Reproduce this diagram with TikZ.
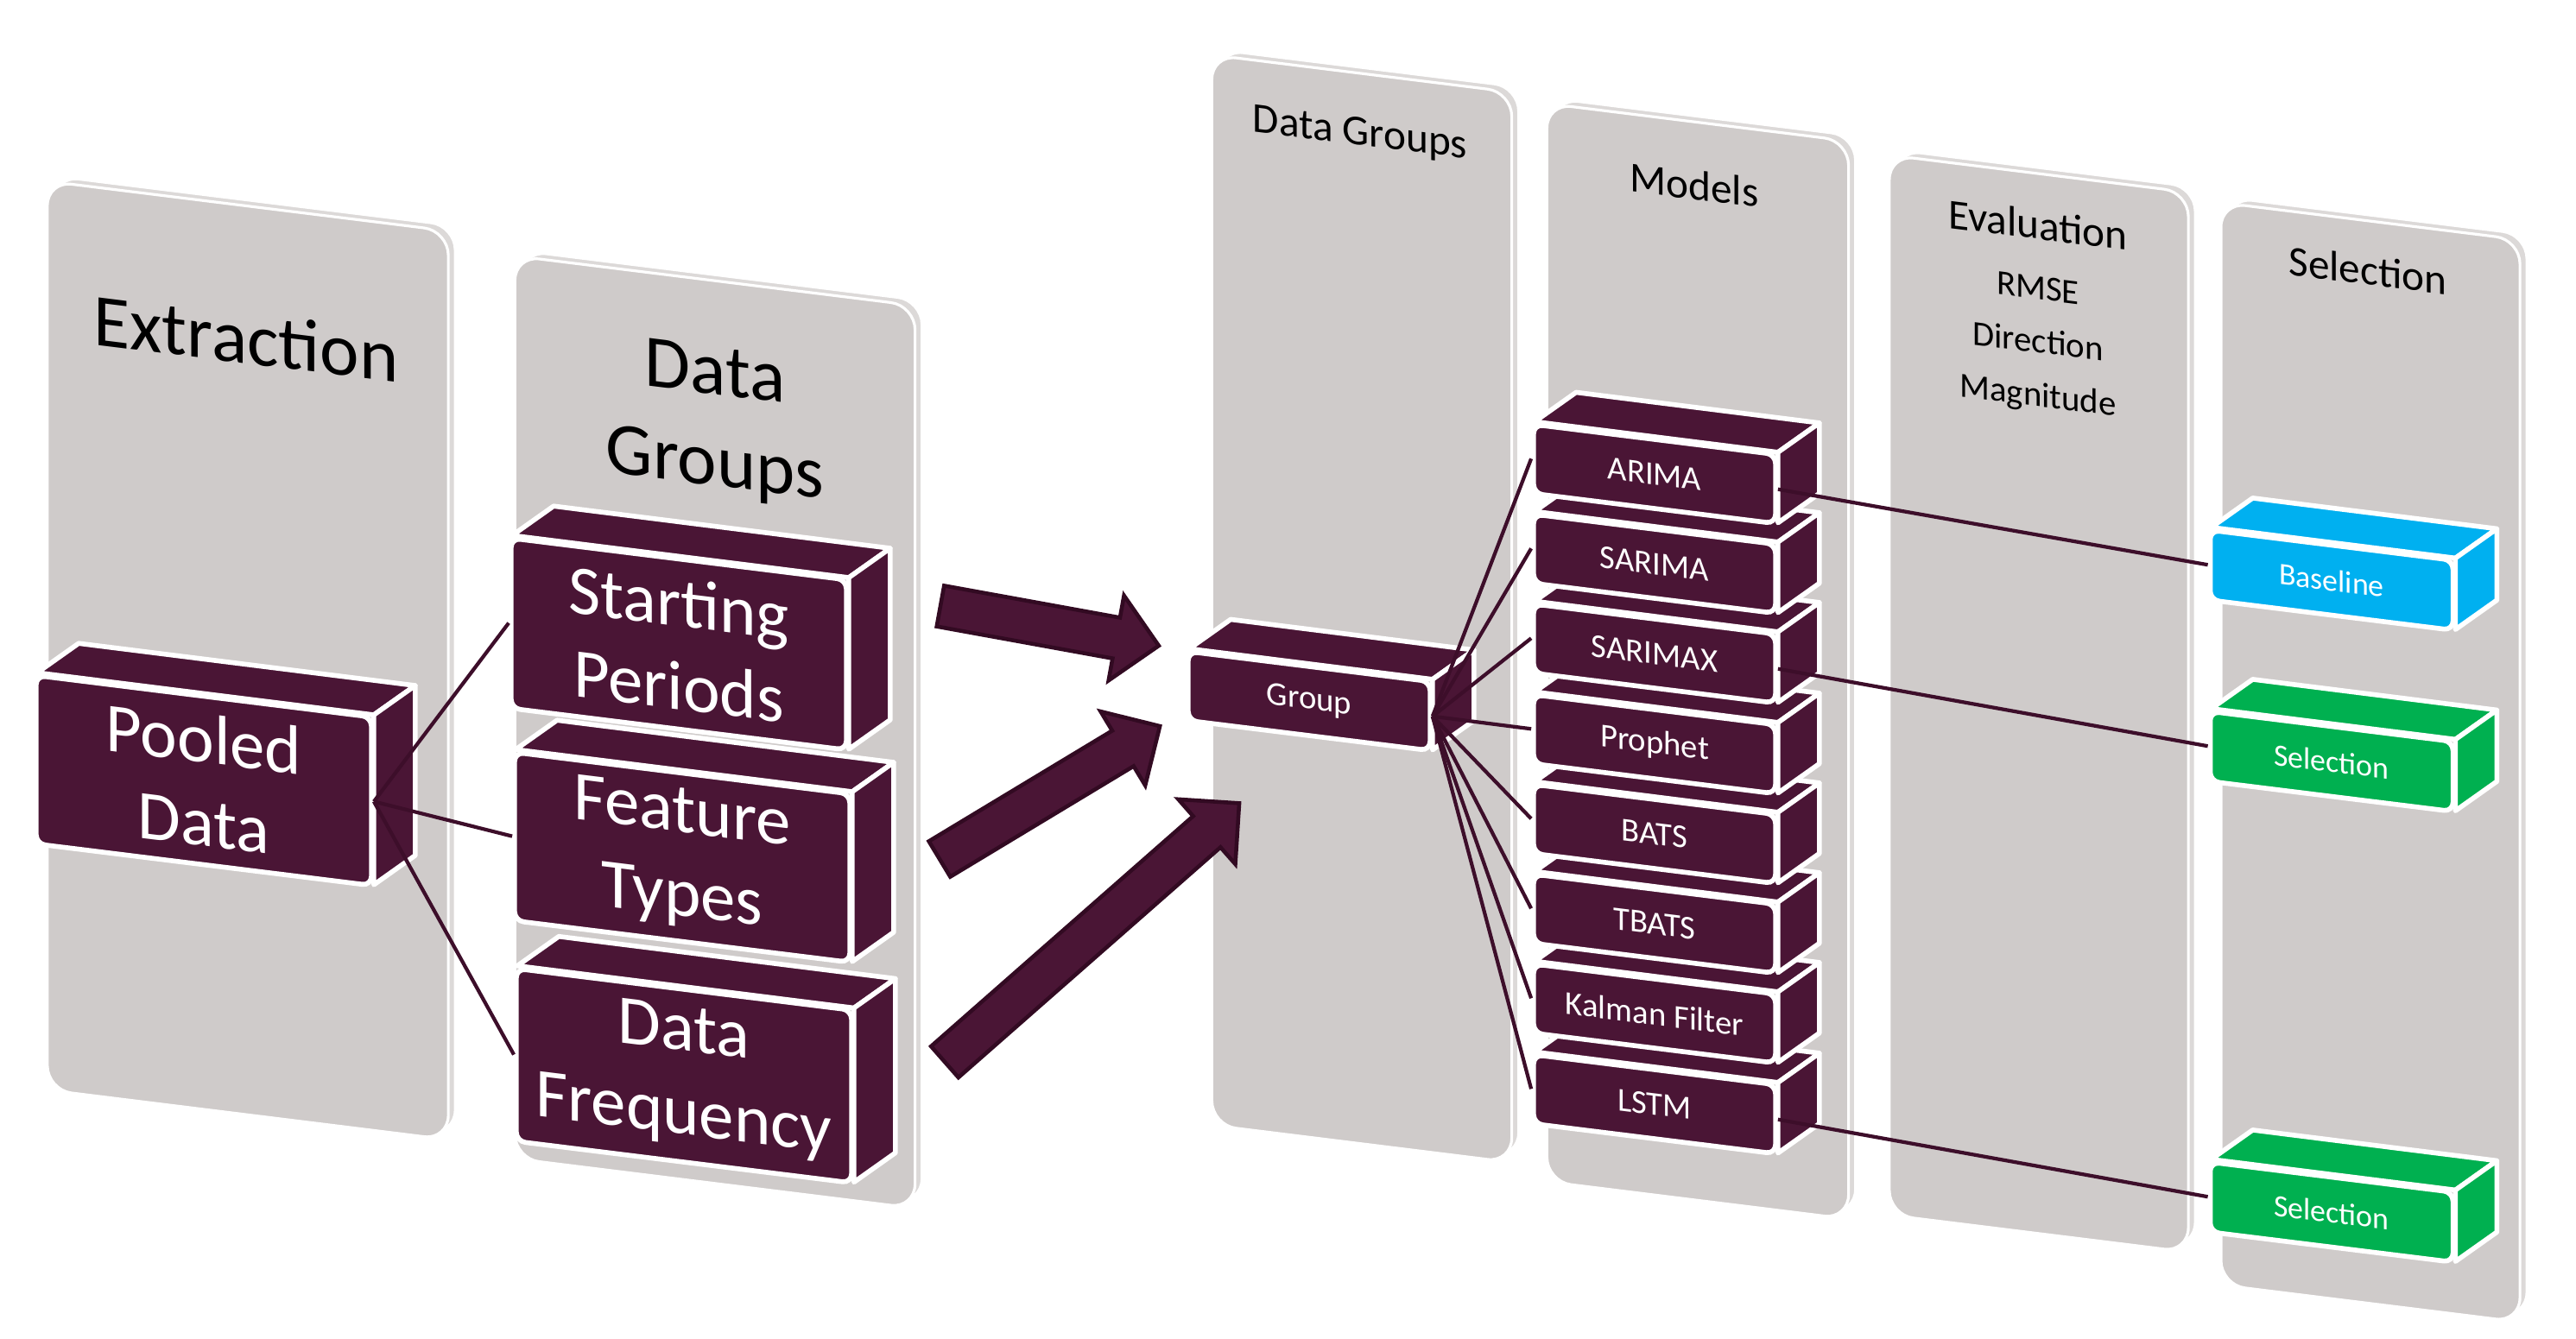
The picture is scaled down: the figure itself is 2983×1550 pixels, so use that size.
\documentclass[tikz,border=0pt]{standalone}
\usepackage{fontspec}
\setmainfont{Carlito}
\usetikzlibrary{calc}
\definecolor{boxCol}{HTML}{4A1535}
\definecolor{lineCol}{HTML}{3D0E2A}
\definecolor{arrowEdgeCol}{HTML}{320A22}
\definecolor{panelCol}{HTML}{CFCBCA}
\definecolor{panelEdgeCol}{HTML}{DCD9D8}
\definecolor{baseCol}{HTML}{00B0F0}
\definecolor{selCol}{HTML}{00B050}

\pgfdeclarelayer{panels}
\pgfdeclarelayer{faces}
\pgfsetlayers{panels,faces,main}

% top and side face of a 3D block
\newcommand{\boxfaces}[2]{%
  \begin{pgfonlayer}{faces}
    \draw[face, fill=#2] ([xshift=0.04cm]#1.north west) -- ++(48,-34) -- ($(#1.north east)+(48,-34)$) -- (#1.north east) -- cycle;
    \draw[face, fill=#2] (#1.north east) -- ++(48,-34) -- ($([yshift=0.04cm]#1.south east)+(48,-34)$) -- ([yshift=0.04cm]#1.south east) -- cycle;
  \end{pgfonlayer}}

% thick block arrow: tail x, tail y, angle, length
\newcommand{\flowarrow}[4]{%
  \begin{scope}[shift={(#1,#2)}, rotate=#3]
    \draw[bigarrow] (0,-24) -- ({#4-50},-24) -- ({#4-50},-50) -- (#4,0) -- ({#4-50},50) -- ({#4-50},24) -- (0,24) -- cycle;
  \end{scope}}

\begin{document}
\begin{tikzpicture}[
    x=0.01cm, y=-0.01cm,
    % Panel styles
    panel/.style={
        rectangle,
        rounded corners=8pt,
        fill=panelCol,
        draw=white,
        line width=0.9pt,
        yslant=-0.124,
        transform shape
    },
    paneledge/.style={
        panel,
        fill=panelEdgeCol
    },
    paneltitle/.style={
        font=\fontsize{24.5}{30}\selectfont,
        align=center,
        inner sep=0pt,
        yslant=-0.124,
        transform shape
    },
    smalltitle/.style={
        paneltitle,
        font=\fontsize{14}{17}\selectfont,
        anchor=base
    },
    % Block styles
    bigblock/.style={
        rectangle,
        rounded corners=3pt,
        draw=white,
        line width=1.6pt,
        fill=boxCol,
        text=white,
        font=\fontsize{23}{27.5}\selectfont,
        align=center,
        inner sep=1pt,
        minimum width=3.88cm,
        yslant=-0.124,
        transform shape
    },
    block/.style={
        bigblock,
        font=\fontsize{11}{13}\selectfont,
        minimum width=2.8cm,
        minimum height=0.8cm
    },
    selblock/.style={
        block,
        fill=#1,
        font=\fontsize{10.2}{12}\selectfont,
        minimum width=2.81cm,
        minimum height=0.81cm
    },
    face/.style={
        draw=white,
        line width=1.6pt,
        line join=round
    },
    link/.style={
        draw=lineCol,
        line width=1.2pt
    },
    bigarrow/.style={
        fill=boxCol,
        draw=arrowEdgeCol,
        line width=1.3pt,
        line join=miter
    }
]
    \useasboundingbox (0,0) rectangle (2983,1550);

    % ==== PANELS ====
    \begin{pgfonlayer}{panels}
        \fill[white] (0,0) rectangle (2983,1550);
        \node[paneledge, minimum width=4.64cm, minimum height=10.52cm] (pExtractEdge) at (295,759) {};
        \node[panel, minimum width=4.64cm, minimum height=10.52cm] (pExtract) at (287,765) {};
        \node[paneledge, minimum width=4.63cm, minimum height=10.45cm] (pGroupsEdge) at (836,842) {};
        \node[panel, minimum width=4.63cm, minimum height=10.45cm] (pGroups) at (828,848) {};
        \node[paneledge, minimum width=3.47cm, minimum height=12.39cm] (pGroupEdge) at (1585,699) {};
        \node[panel, minimum width=3.47cm, minimum height=12.39cm] (pGroup) at (1577,705) {};
        \node[paneledge, minimum width=3.49cm, minimum height=12.48cm] (pModelsEdge) at (1974,760) {};
        \node[panel, minimum width=3.49cm, minimum height=12.48cm] (pModels) at (1966,766) {};
        \node[paneledge, minimum width=3.46cm, minimum height=12.27cm] (pEvalEdge) at (2369,809) {};
        \node[panel, minimum width=3.46cm, minimum height=12.27cm] (pEval) at (2361,815) {};
        \node[paneledge, minimum width=3.46cm, minimum height=12.53cm] (pSelectEdge) at (2753,877) {};
        \node[panel, minimum width=3.46cm, minimum height=12.53cm] (pSelect) at (2745,883) {};
    \end{pgfonlayer}

    % ==== PANEL TITLES ====
    \node[paneltitle, anchor=base] (tExtract) at (285,421) {Extraction};
    \node[paneltitle] (tGroups) at (828,489) {Data\\Groups};
    \node[smalltitle] (tGroup) at (1575,168) {Data Groups};
    \node[smalltitle] (tModels) at (1962,231) {Models};
    \node[smalltitle] (tEval) at (2360,277) {Evaluation};
    \node[paneltitle, font=\fontsize{11.6}{17.6}\selectfont] (tMetrics) at (2360,399) {RMSE\\Direction\\Magnitude};
    \node[smalltitle] (tSelect) at (2742,330) {Selection};

    % ==== EXTRACTION ====
    \node[bigblock, minimum height=1.95cm] (pooled) at (236,904) {Pooled\\Data};
    \boxfaces{pooled}{boxCol}

    % ==== DATA GROUPS (bottom up) ====
    \node[bigblock, minimum height=2.0cm] (freq) at (792,1246) {Data\\Frequency};
    \boxfaces{freq}{boxCol}
    \node[bigblock, minimum height=1.95cm] (feature) at (790,993) {Feature\\Types};
    \boxfaces{feature}{boxCol}
    \node[bigblock, minimum height=1.97cm] (start) at (786,746) {Starting\\Periods};
    \boxfaces{start}{boxCol}

    \draw[link] (pooled.east) -- (start.west);
    \draw[link] (pooled.east) -- (feature.west);
    \draw[link] (pooled.east) -- (freq.west);

    % Arrows into the group
    \flowarrow{1089}{702}{-10.3}{257}
    \flowarrow{1088}{995}{31.1}{298}
    \flowarrow{1094}{1230}{41.3}{454}

    % ==== GROUP ====
    \node[block] (group) at (1516,812) {Group};
    \boxfaces{group}{boxCol}

    % ==== MODELS (bottom up) ====
    \node[block] (lstm) at (1916,1279) {LSTM};
    \boxfaces{lstm}{boxCol}
    \node[block] (kalman) at (1916,1174) {Kalman Filter};
    \boxfaces{kalman}{boxCol}
    \node[block] (tbats) at (1916,1070) {TBATS};
    \boxfaces{tbats}{boxCol}
    \node[block] (bats) at (1916,966) {BATS};
    \boxfaces{bats}{boxCol}
    \node[block] (prophet) at (1916,862) {Prophet};
    \boxfaces{prophet}{boxCol}
    \node[block] (sarimax) at (1916,757) {SARIMAX};
    \boxfaces{sarimax}{boxCol}
    \node[block] (sarima) at (1916,653) {SARIMA};
    \boxfaces{sarima}{boxCol}
    \node[block] (arima) at (1916,549) {ARIMA};
    \boxfaces{arima}{boxCol}

    % Group to every model
    \draw[link] (group.east) -- (arima.west);
    \draw[link] (group.east) -- (sarima.west);
    \draw[link] (group.east) -- (sarimax.west);
    \draw[link] (group.east) -- (prophet.west);
    \draw[link] (group.east) -- (bats.west);
    \draw[link] (group.east) -- (tbats.west);
    \draw[link] (group.east) -- (kalman.west);
    \draw[link] (group.east) -- (lstm.west);

    % ==== SELECTION ====
    \node[selblock=baseCol] (baseline) at (2700,672) {Baseline};
    \boxfaces{baseline}{baseCol}
    \node[selblock=selCol] (selA) at (2700,882) {Selection};
    \boxfaces{selA}{selCol}
    \node[selblock=selCol] (selB) at (2700,1404) {Selection};
    \boxfaces{selB}{selCol}

    \draw[link] (arima.east) -- (baseline.west);
    \draw[link] (sarimax.east) -- (selA.west);
    \draw[link] (lstm.east) -- (selB.west);

\end{tikzpicture}
\end{document}
